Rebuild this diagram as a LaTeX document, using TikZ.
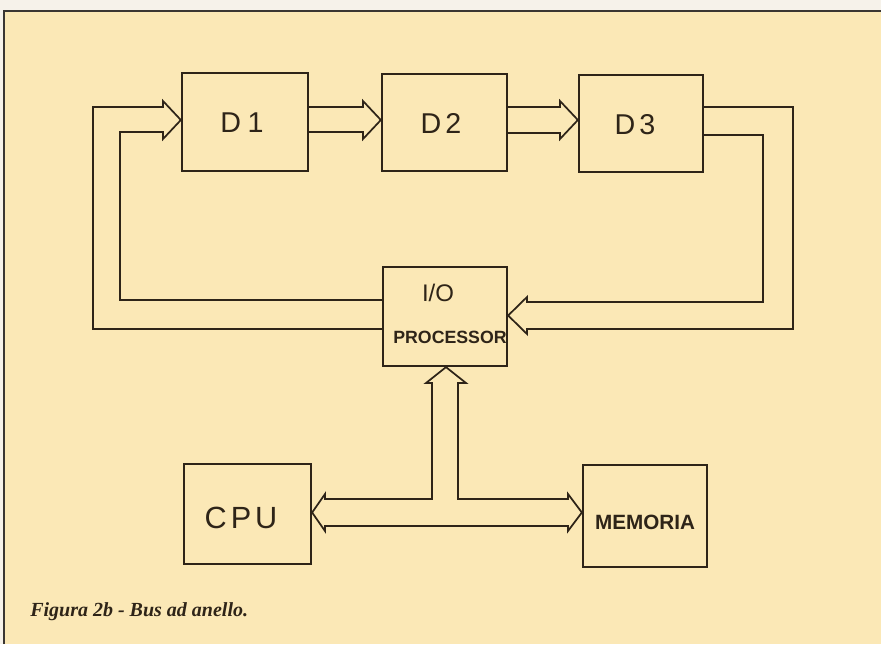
\documentclass[tikz,border=0pt]{standalone}
\usepackage{fontspec}
\setmainfont{Liberation Serif}
\setsansfont{Liberation Sans}
\usetikzlibrary{calc}
\definecolor{paper}{HTML}{FBE8B6}
\definecolor{outside}{HTML}{F6F2EA}
\definecolor{ink}{HTML}{2E2418}
\definecolor{frameline}{HTML}{3A3632}
\begin{document}
\begin{tikzpicture}[x=0.75pt,y=-0.75pt,
  box/.style={draw=ink,line width=1.7pt,inner sep=0pt,line join=miter},
  lbl/.style={text=ink,inner sep=0pt,font=\sffamily},
  bus/.style={draw=ink,line width=1.3pt,line join=miter}]
\useasboundingbox (0,0) rectangle (881,644);
\fill[outside] (0,0) rectangle (881,644);
\fill[paper] (4,11) rectangle (881,644);
\draw[frameline,line width=1.5pt] (4,644) -- (4,11) -- (881,11);

% boxes
\node[box,minimum width=94.5pt,minimum height=73.5pt] (D1) at (245,122) {};
\node[box,minimum width=93.75pt,minimum height=72.75pt] (D2) at (444.5,122.5) {};
\node[box,minimum width=93pt,minimum height=72.75pt] (D3) at (641,123.5) {};
\node[box,minimum width=93pt,minimum height=74.25pt] (IO) at (445,316.5) {};
\node[box,minimum width=95.25pt,minimum height=75pt] (CPU) at (247.5,514) {};
\node[box,minimum width=93pt,minimum height=76.5pt] (MEM) at (645,516) {};

% labels
\node[lbl,font=\sffamily\fontsize{21.5}{21.5}\selectfont] (tD1) at (242,123) {D\kern5pt1};
\node[lbl,font=\sffamily\fontsize{21.5}{21.5}\selectfont] (tD2) at (441,123) {D\kern3pt2};
\node[lbl,font=\sffamily\fontsize{21.5}{21.5}\selectfont] (tD3) at (635,125) {D\kern3pt3};
\node[lbl,font=\sffamily\fontsize{18}{18}\selectfont] (tIO) at (438,293) {I/O};
\node[lbl,font=\sffamily\bfseries\fontsize{13.3}{13.3}\selectfont] (tPR) at (450,337) {PROCESSOR};
\node[lbl,font=\sffamily\fontsize{23}{23}\selectfont] (tCPU) at (241,518) {C\kern3pt P\kern3pt U};
\node[lbl,font=\sffamily\bfseries\fontsize{15.5}{15.5}\selectfont] (tMEM) at (645,522) {MEMORIA};

% D1 -> D2
\draw[bus] (D1.east |- 0,107) -- (363,107) -- (363,101) -- (D2.west |- 0,120)
  -- (363,139) -- (363,132) -- (D1.east |- 0,132);
% D2 -> D3
\draw[bus] (D2.east |- 0,107) -- (560,107) -- (560,101) -- (D3.west |- 0,120)
  -- (560,139) -- (560,133) -- (D2.east |- 0,133);
% D3 -> IO (ring, right side)
\draw[bus] (D3.east |- 0,107) -- (793,107) -- (793,329) -- (527,329) -- (527,334)
  -- (IO.east |- 0,315.5) -- (527,297) -- (527,302) -- (763,302) -- (763,135)
  -- (D3.east |- 0,135);
% IO -> D1 (ring, left side)
\draw[bus] (IO.west |- 0,329) -- (93,329) -- (93,107) -- (163,107) -- (163,101)
  -- (D1.west |- 0,120) -- (163,139) -- (163,132) -- (120,132) -- (120,300)
  -- (IO.west |- 0,300);
% bus CPU <-> MEM <-> IO
\draw[bus] (IO.south -| 446,0) -- (466,383) -- (458,383) -- (458,499) -- (568,499)
  -- (568,494) -- (MEM.west |- 0,512.5) -- (568,531) -- (568,526) -- (325,526)
  -- (325,531) -- (CPU.east |- 0,512.5) -- (325,494) -- (325,499) -- (432,499)
  -- (432,383) -- (426,383) -- cycle;

% caption
\node[anchor=base west,inner sep=0pt,text=ink,font=\rmfamily\bfseries\itshape\fontsize{15}{15}\selectfont] (cap) at (30,616) {Figura 2b - Bus ad anello.};
\end{tikzpicture}
\end{document}
